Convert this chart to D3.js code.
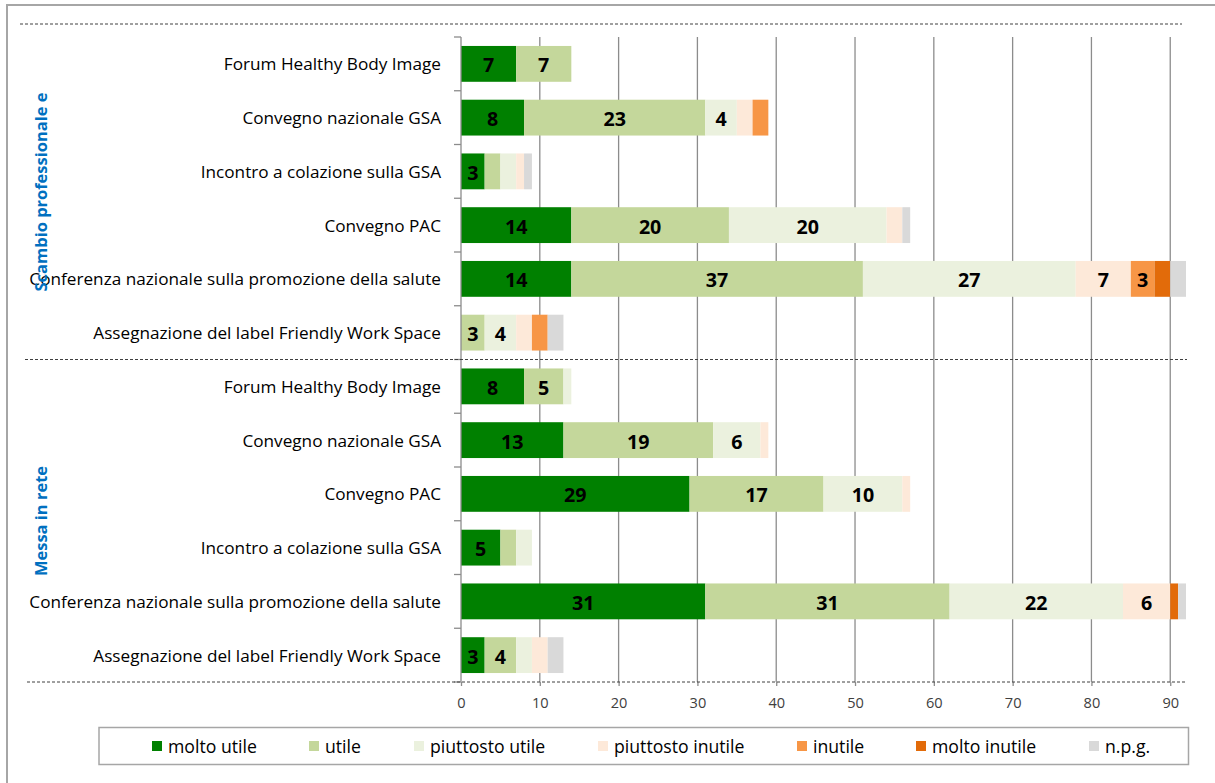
<!DOCTYPE html>
<html><head><meta charset="utf-8">
<script src="https://cdn.jsdelivr.net/npm/d3@7"></script>
<style>body{margin:0;background:#fff}svg{display:block}text{font-family:"Open Sans",Lato,sans-serif}</style>
</head><body><svg id="c" width="1215" height="783"></svg>
<script>
const categories = [
 "Forum Healthy Body Image ","Convegno nazionale GSA","Incontro a colazione sulla GSA","Convegno PAC",
 "Conferenza nazionale sulla promozione della salute","Assegnazione del label Friendly Work Space",
 "Forum Healthy Body Image ","Convegno nazionale GSA","Convegno PAC","Incontro a colazione sulla GSA",
 "Conferenza nazionale sulla promozione della salute","Assegnazione del label Friendly Work Space"];
const groups = ["Scambio professionale e","Messa in rete"];
const seriesNames = ["molto utile","utile","piuttosto utile","piuttosto inutile","inutile","molto inutile","n.p.g."];
const moltoUtile      = [7,8,3,14,14,0, 8,13,29,5,31,3];
const utile           = [7,23,2,20,37,3, 5,19,17,2,31,4];
const piuttostoUtile  = [0,4,2,20,27,4, 1,6,10,2,22,2];
const piuttostoInutile= [0,2,1,2,7,2, 0,1,1,0,6,2];
const inutile         = [0,2,0,0,3,2, 0,0,0,0,0,0];
const moltoInutile    = [0,0,0,0,2,0, 0,0,0,0,1,0];
const npg             = [0,0,1,1,2,2, 0,0,0,0,1,2];
const xTicks = [0,10,20,30,40,50,60,70,80,90];
const colors = ["#008000","#C4D79B","#EBF1DE","#FDE9D9","#F79646","#E26B0A","#D9D9D9"];
const seriesValues = [moltoUtile,utile,piuttostoUtile,piuttostoInutile,inutile,moltoInutile,npg];

const svg = d3.select("#c");
const x = d3.scaleLinear().domain([0,92]).range([461,1186]);
const y = d3.scaleBand().domain(d3.range(categories.length)).range([37,682]).paddingInner(1/3).paddingOuter(1/6);

function fitSize(sample, base, target, weight){
  const t = svg.append("text").attr("font-size",base).attr("font-weight",weight||"normal").text(sample);
  const w = t.node().getComputedTextLength(); t.remove();
  return base*target/w;
}
const catSize = fitSize("Conferenza nazionale sulla promozione della salute",16,412);
const legSize = fitSize("molto utile",16,89);
const grpSize = fitSize("Scambio professionale e",16,199,"bold");
const valSize = fitSize("23",17,22.5,"bold");
const tickSize = fitSize("30",14,16.7);

// outer frame
svg.append("path").attr("d","M7,783 V5 H1215").attr("fill","none").attr("stroke","#a6a6a6").attr("stroke-width",2);

// gridlines
svg.append("g").selectAll("line").data(xTicks.filter(t=>t>0)).join("line")
 .attr("x1",d=>x(d)).attr("x2",d=>x(d)).attr("y1",37).attr("y2",682)
 .attr("stroke","#8c8c8c").attr("stroke-width",1.3);

// bars
const table = categories.map((c,i)=>{const o={i};seriesNames.forEach((s,k)=>o[s]=seriesValues[k][i]);return o;});
const stack = d3.stack().keys(seriesNames)(table);
const gBars = svg.append("g");
stack.forEach((layer,k)=>{
  gBars.append("g").attr("fill",colors[k]).selectAll("rect").data(layer).join("rect")
   .attr("x",d=>x(d[0])).attr("width",d=>x(d[1])-x(d[0]))
   .attr("y",d=>y(d.data.i)).attr("height",y.bandwidth());
});
stack.forEach((layer,k)=>{
  gBars.append("g").selectAll("text").data(layer.filter(d=>d[1]-d[0]>=3)).join("text")
   .attr("x",d=>(x(d[0])+x(d[1]))/2).attr("y",d=>y(d.data.i)+y.bandwidth()/2+1)
   .attr("text-anchor","middle").attr("dominant-baseline","central")
   .attr("font-size",valSize).attr("font-weight","bold").attr("fill","#000")
   .text(d=>d[1]-d[0]);
});

// y axis line + ticks
svg.append("line").attr("x1",461).attr("x2",461).attr("y1",37).attr("y2",682).attr("stroke","#8c8c8c").attr("stroke-width",1.3);
svg.append("g").selectAll("line").data(d3.range(categories.length+1)).join("line")
 .attr("x1",454).attr("x2",461).attr("y1",d=>37+d*y.step()).attr("y2",d=>37+d*y.step())
 .attr("stroke","#8c8c8c").attr("stroke-width",1.3);

// category labels
svg.append("g").selectAll("text").data(categories).join("text")
 .attr("x",441).attr("y",(d,i)=>y(i)+y.bandwidth()/2).attr("text-anchor","end").attr("dominant-baseline","central")
 .attr("font-size",catSize).attr("fill","#000").text(d=>d);

// x axis
const xa = svg.append("g").attr("transform","translate(0,682)")
 .call(d3.axisBottom(x).tickValues(xTicks).tickSize(4).tickPadding(12));
xa.select(".domain").remove();
xa.selectAll("line").attr("stroke","#8c8c8c").attr("stroke-width",1.3);
xa.selectAll("text").attr("font-size",tickSize).attr("fill","#404040").attr("font-family","'Open Sans',sans-serif");

// dashed separators
[[24,20,1182],[359.5,25,1187],[682,27,1187]].forEach(([yy,a,b])=>{
  svg.append("line").attr("x1",a).attr("x2",b).attr("y1",yy).attr("y2",yy)
   .attr("stroke","#404040").attr("stroke-width",1).attr("stroke-dasharray","3,2");
});

// group labels
const gy = [192,521];
groups.forEach((g,k)=>{
  svg.append("text").attr("transform",`translate(40,${gy[k]}) rotate(-90)`)
   .attr("text-anchor","middle").attr("dominant-baseline","central")
   .attr("font-size",grpSize).attr("font-weight","bold").attr("fill","#0070C0").text(g);
});

// legend
svg.append("rect").attr("x",99).attr("y",727.5).attr("width",1089.5).attr("height",37)
 .attr("fill","#fff").attr("stroke","#a6a6a6").attr("stroke-width",1.5);
const legX = [152,309,414,598,797,916,1089];
const lg = svg.append("g").selectAll("g").data(seriesNames).join("g")
 .attr("transform",(d,i)=>`translate(${legX[i]},746)`);
lg.append("rect").attr("x",0).attr("y",-5).attr("width",10).attr("height",10).attr("fill",(d,i)=>colors[i]);
lg.append("text").attr("x",16).attr("y",0).attr("dominant-baseline","central").attr("font-size",legSize).attr("fill","#000").text(d=>d);
</script></body></html>
